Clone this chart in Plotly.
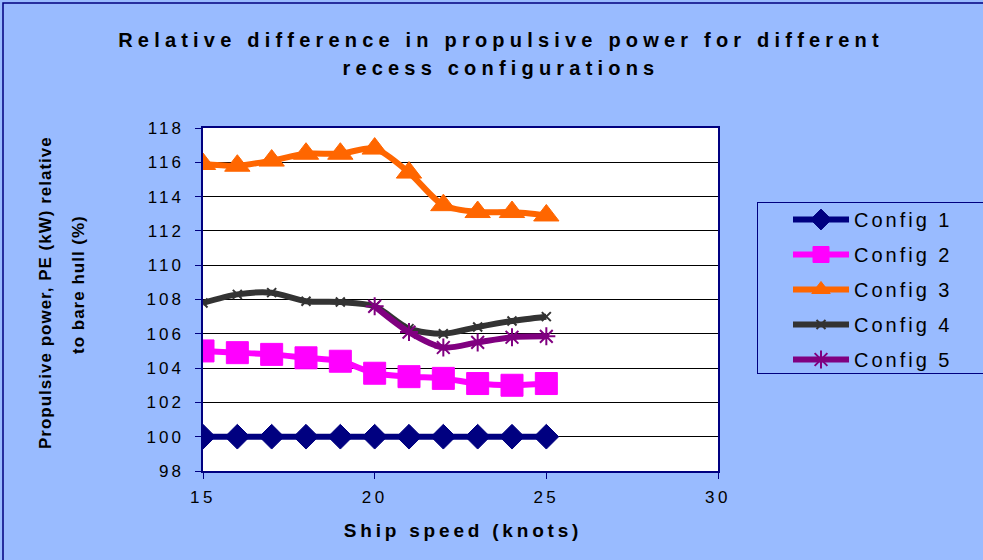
import plotly.graph_objects as go

speed = [15, 16, 17, 18, 19, 20, 21, 22, 23, 24, 25]
config1 = [100, 100, 100, 100, 100, 100, 100, 100, 100, 100, 100]
config2 = [105.0, 104.9, 104.8, 104.6, 104.4, 103.7, 103.5, 103.4, 103.1, 103.0, 103.1]
config3 = [115.9, 115.8, 116.1, 116.5, 116.5, 116.8, 115.4, 113.5, 113.1, 113.1, 112.9]
config4 = [107.8, 108.3, 108.4, 107.9, 107.85, 107.6, 106.3, 106.0, 106.4, 106.75, 107.0]
speed5 = [20, 21, 22, 23, 24, 25]
config5 = [107.6, 106.1, 105.2, 105.5, 105.8, 105.85]

names = ["Config 1", "Config 2", "Config 3", "Config 4", "Config 5"]
title_lines = ["Relative difference in propulsive power for different", "recess configurations"]
ytitle_lines = ["Propulsive power, PE (kW) relative", "to bare hull (%)"]
xtitle = "Ship speed (knots)"

BG = "#99BBFF"
NAVY = "#000080"
FONT = "Liberation Sans, Arial, sans-serif"

series = [
    (speed, config1, "#000080", "diamond", 19, 1),
    (speed, config2, "#FF00FF", "square", 22, 1),
    (speed, config3, "#FF6600", "triangle-up", 22, 1),
    (speed, config4, "#333333", "x-thin-open", 9, 2),
    (speed5, config5, "#800080", "asterisk-open", 15, 2),
]

fig = go.Figure()
for i, (xs, ys, col, sym, sz, lw) in enumerate(series):
    fig.add_trace(go.Scatter(
        x=xs, y=ys, name=names[i], mode="lines+markers",
        line=dict(color=col, width=6, shape="spline", smoothing=0.8),
        marker=dict(symbol=sym, size=sz, color=col, line=dict(color=col, width=lw)),
        legendgroup=names[i],
    ))

annotations = [
    dict(text="<b>%s</b>" % title_lines[0], x=0.578, y=(471 - 40) / 343, font=dict(size=20)),
    dict(text="<b>%s</b>" % title_lines[1], x=0.578, y=(471 - 68) / 343, font=dict(size=20)),
    dict(text="<b>%s</b>" % ytitle_lines[0], x=(45 - 203) / 515, y=(471 - 293) / 343,
         textangle=-90, font=dict(size=17)),
    dict(text="<b>%s</b>" % ytitle_lines[1], x=(78 - 203) / 515, y=(471 - 285) / 343,
         textangle=-90, font=dict(size=17)),
    dict(text="<b>%s</b>" % xtitle, x=(463 - 203) / 515, y=(471 - 530) / 343, font=dict(size=19)),
]
for a in annotations:
    a.update(xref="paper", yref="paper", showarrow=False, xanchor="center", yanchor="middle")
    a["font"]["family"] = FONT
    a["font"]["color"] = "black"

fig.update_layout(
    width=983, height=560,
    paper_bgcolor=BG, plot_bgcolor="white",
    margin=dict(l=203, r=265, t=128, b=89),
    font=dict(family=FONT, color="black"),
    annotations=annotations,
    xaxis=dict(
        range=[15, 30], tickvals=[15, 20, 25, 30], showgrid=False,
        showline=True, linecolor=NAVY, linewidth=1.5, mirror=True,
        ticks="outside", tickcolor=NAVY, ticklen=6, ticklabelstandoff=4,
        tickfont=dict(size=17), zeroline=False,
    ),
    yaxis=dict(
        range=[98, 118], dtick=2, showgrid=True, gridcolor="black", gridwidth=1.2,
        showline=True, linecolor=NAVY, linewidth=1.5, mirror=True,
        ticks="outside", tickcolor=NAVY, ticklen=6, ticklabelstandoff=8,
        tickfont=dict(size=17), zeroline=False,
    ),
    legend=dict(
        x=(757 - 203) / 515, xanchor="left", y=(471 - 202) / 343, yanchor="top",
        bgcolor=BG, bordercolor=NAVY, borderwidth=1,
        font=dict(size=20, family=FONT), tracegroupgap=6,
        itemwidth=56,
    ),
    shapes=[dict(type="rect", xref="paper", yref="paper",
                 x0=-200 / 515, x1=790 / 515, y0=-100 / 343, y1=468 / 343,
                 line=dict(color=NAVY, width=1.5), fillcolor="rgba(0,0,0,0)", layer="below")],
)

post = """
document.body.style.margin = '0';
var gd = document.getElementById('{plot_id}');
function sp(sel, v) { gd.querySelectorAll(sel).forEach(function(e){ e.style.letterSpacing = v; }); }
sp('.xtick text', '3.5px');
sp('.ytick text', '3px');
sp('.legendtext', '3px');
sp('.annotation[data-index="0"] text', '5.2px');
sp('.annotation[data-index="1"] text', '5.2px');
sp('.annotation[data-index="2"] text', '1px');
sp('.annotation[data-index="3"] text', '1px');
sp('.annotation[data-index="4"] text', '3.8px');
var lg = gd.querySelector('.legend');
if (lg) {
  var sb = lg.querySelector('.scrollbox');
  if (sb) {
    sb.removeAttribute('clip-path');
    sb.setAttribute('transform', (sb.getAttribute('transform') || '') + ' translate(30,-3)');
  }
  var bg = lg.querySelector('rect.bg');
  if (bg) { bg.setAttribute('width', '300'); bg.setAttribute('height', '171'); }
}
"""

fig.write_html("out.html", post_script=post, config={"displayModeBar": False})
